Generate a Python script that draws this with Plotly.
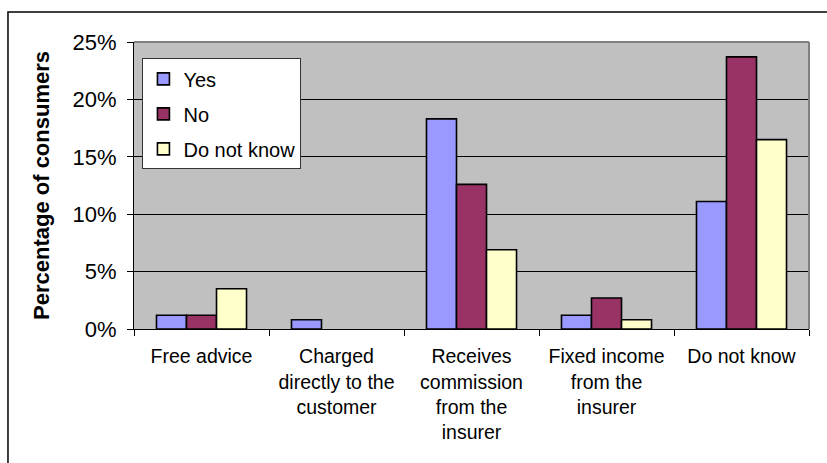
import plotly.graph_objects as go

# Survey answers: how consumers think the adviser is paid
categories = [
    "Free advice",
    "Charged<br>directly to the<br>customer",
    "Receives<br>commission<br>from the<br>insurer",
    "Fixed income<br>from the<br>insurer",
    "Do not know",
]
series_names = ["Yes", "No", "Do not know"]
yes_share = [0.012, 0.008, 0.183, 0.012, 0.111]
no_share = [0.012, 0.0, 0.126, 0.027, 0.237]
dont_know_share = [0.035, 0.0, 0.069, 0.008, 0.165]
series_values = [yes_share, no_share, dont_know_share]
series_colors = ["#9999FF", "#993366", "#FFFFCC"]

y_ticks = [0, 0.05, 0.10, 0.15, 0.20, 0.25]

FONT = "Liberation Sans, Arial, sans-serif"

fig = go.Figure()
for name, vals, col in zip(series_names, series_values, series_colors):
    # empty answers get no outline so nothing is drawn on the baseline
    outline = [1.6 if v > 0 else 0 for v in vals]
    fig.add_trace(go.Bar(
        x=categories, y=vals, name=name, legendgroup=name,
        marker=dict(color=col, line=dict(color="black", width=outline)),
    ))

fig.update_layout(
    width=827, height=463,
    margin=dict(l=134, r=18, t=42, b=134),
    paper_bgcolor="white", plot_bgcolor="#C0C0C0",
    barmode="group", bargap=0.333, bargroupgap=0,
    font=dict(family=FONT, color="black", size=18),
    showlegend=True,
    legend=dict(
        x=0.0125, y=0.943, xanchor="left", yanchor="top",
        bgcolor="white", bordercolor="#333333", borderwidth=1,
        font=dict(size=20, family=FONT, color="black"),
        tracegroupgap=6, traceorder="grouped",
        itemwidth=30,
    ),
    xaxis=dict(
        type="category", showline=True, linecolor="black", linewidth=1,
        ticks="outside", tickson="boundaries", ticklen=6, tickcolor="black",
        tickfont=dict(size=19.5, family=FONT), showgrid=False,
        ticklabelstandoff=10,
    ),
    yaxis=dict(
        range=[0, 0.25], tickvals=y_ticks, tickformat=".0%",
        showline=True, linecolor="black", linewidth=1,
        ticks="outside", ticklen=6, tickcolor="black",
        tickfont=dict(size=22, family=FONT), ticklabelstandoff=6,
        showgrid=True, gridcolor="black", gridwidth=1, zeroline=False,
        title=dict(text="<b>Percentage of consumers</b>",
                   font=dict(size=22, family=FONT), standoff=16),
    ),
    shapes=[
        # plot area border on top and right
        dict(type="line", xref="paper", yref="paper", x0=0, x1=1, y0=1, y1=1,
             line=dict(color="#808080", width=2)),
        dict(type="line", xref="paper", yref="paper", x0=1, x1=1, y0=0, y1=1,
             line=dict(color="#808080", width=2)),
        # chart frame
        dict(type="rect", xref="paper", yref="paper",
             x0=-0.1867, x1=1.06, y0=-0.5, y1=1.1044,
             line=dict(color="black", width=1.5), fillcolor="rgba(0,0,0,0)"),
    ],
)

fig.write_html("out.html")
